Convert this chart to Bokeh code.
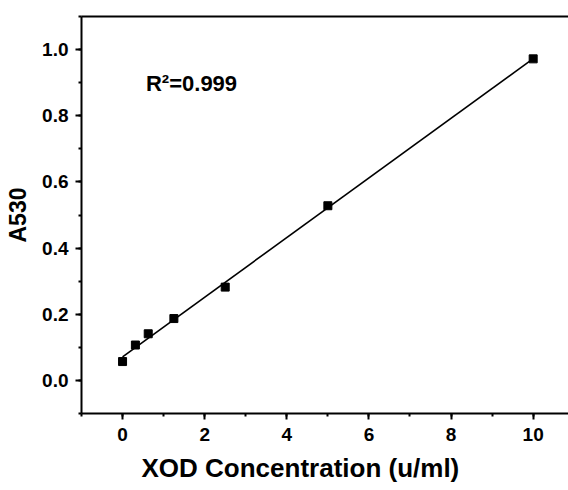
import numpy as np
from bokeh.plotting import figure
from bokeh.models import (LinearAxis, SingleIntervalTicker, FixedTicker,
                          PrintfTickFormatter, Range1d, Label, Title)
from bokeh.embed import file_html
from bokeh.resources import INLINE

# Data
conc = [0, 0.3125, 0.625, 1.25, 2.5, 5, 10]
a530 = [0.057, 0.107, 0.141, 0.187, 0.282, 0.528, 0.972]
r2_text = "R²=0.999"
x_label = "XOD Concentration (u/ml)"
y_label = "A530"

FONT = "Liberation Sans"

p = figure(width=568, height=490, output_backend="svg", toolbar_location=None,
           x_range=Range1d(-1, 10.86), y_range=Range1d(-0.1, 1.1),
           x_axis_location=None, y_axis_location=None,
           min_border_left=81, min_border_right=0, min_border_top=16,
           min_border_bottom=77)
p.outline_line_color = None
p.grid.visible = False
p.background_fill_color = "white"
p.border_fill_color = "white"

xaxis = LinearAxis(ticker=SingleIntervalTicker(interval=2, num_minor_ticks=2))
yaxis = LinearAxis(ticker=SingleIntervalTicker(interval=0.2, num_minor_ticks=2),
                   formatter=PrintfTickFormatter(format="%.1f"),
                   axis_label=y_label)
for ax in (xaxis, yaxis):
    ax.axis_line_width = 2
    ax.axis_line_color = "black"
    ax.major_tick_line_width = 2
    ax.minor_tick_line_width = 2
    ax.major_tick_in = 0
    ax.major_tick_out = 6
    ax.minor_tick_in = 0
    ax.minor_tick_out = 3
    ax.major_label_text_font = FONT
    ax.major_label_text_font_style = "bold"
    ax.major_label_text_font_size = "19px"
    ax.major_label_text_color = "black"
    ax.axis_label_text_font = FONT
    ax.axis_label_text_font_style = "bold"
    ax.axis_label_text_color = "black"
xaxis.major_label_standoff = 8
yaxis.axis_label_text_font_size = "23px"
yaxis.major_label_standoff = 7
yaxis.axis_label_standoff = 8

top = LinearAxis(ticker=FixedTicker(ticks=[]), axis_line_width=2,
                 major_tick_line_color=None, minor_tick_line_color=None,
                 major_label_text_font_size="0px")
p.add_layout(xaxis, "below")
p.add_layout(yaxis, "left")
p.add_layout(top, "above")

# x-axis title, placed as a title below the axis so it can be shifted left
xt = Title(text=x_label, align="left", offset=60, standoff=14,
           text_font=FONT, text_font_style="bold", text_font_size="26px",
           text_color="black")
p.add_layout(xt, "below")

# Linear fit
k, b = np.polyfit(conc, a530, 1)
fx = [min(conc), max(conc)]
fy = [k * v + b for v in fx]
p.line(fx, fy, line_color="black", line_width=1.6)
p.scatter(conc, a530, marker="square", size=8, fill_color="black", line_color="black")

p.add_layout(Label(x=0.57, y=0.897, text=r2_text, text_font=FONT,
                   text_font_style="bold", text_font_size="22px",
                   text_color="black", text_baseline="alphabetic"))

open("out.html", "w").write(file_html(p, INLINE))
